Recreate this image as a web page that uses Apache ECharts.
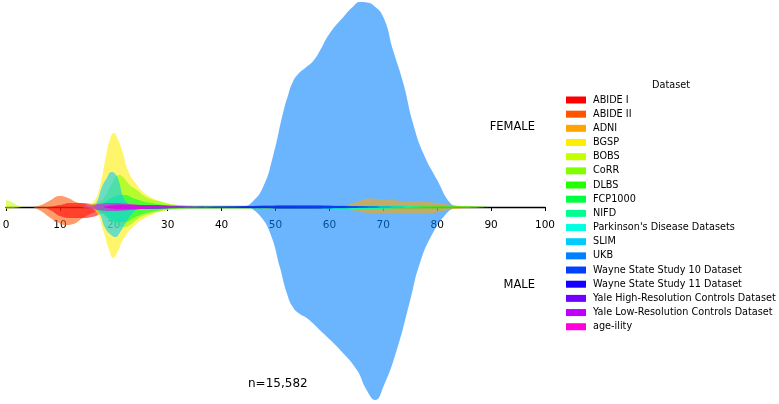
<!DOCTYPE html>
<html lang="en">
<head>
    <meta charset="UTF-8">
    <title>Dataset age distribution</title>
    <script type="text/javascript" src="https://cdn.jsdelivr.net/npm/echarts@6/dist/echarts.min.js"></script>
    <style>
        html, body { margin: 0; padding: 0; background: #fff; }
        #showDiv { width: 779px; height: 404px; }
    </style>
</head>
<body>
<div id="showDiv"></div>
<script type="text/javascript">

	// dataset names and colours (legend order)
	var datasets = ['ABIDE I', 'ABIDE II', 'ADNI', 'BGSP', 'BOBS', 'CoRR', 'DLBS', 'FCP1000', 'NIFD',
		"Parkinson's Disease Datasets", 'SLIM', 'UKB', 'Wayne State Study 10 Dataset',
		'Wayne State Study 11 Dataset', 'Yale High-Resolution Controls Dataset',
		'Yale Low-Resolution Controls Dataset', 'age-ility'];
	var colors = ['#ff0000', '#ff5500', '#ffa500', '#ffee00', '#c6ff00', '#80ff00', '#22ff00', '#00ff40', '#00ff90',
		'#00ffe0', '#00ccff', '#0080ff', '#0040ff', '#1500ff', '#7000ff', '#c000ff', '#ff00dd'];

	var ageTicks = [0, 10, 20, 30, 40, 50, 60, 70, 80, 90, 100];

	// density curves: [age, height], female up, male down
	var abide1F = [[8,0],[10,2],[12,4],[14,4],[16,3],[18,2],[22,1],[28,0]];
	var abide1M = [[7,0],[8.5,-4],[10,-9],[12,-11],[14,-11],[16,-10],[18,-6],[20,-3],[24,-1],[30,0]];
	var abide2F = [[5,0],[6.5,2],[8,6],[10,11],[11.5,9],[13,5],[14.5,3],[16.3,1],[19,0]];
	var abide2M = [[5,0],[6.5,-4],[8,-10],[9.5,-15],[11,-18],[12.5,-17],[14,-12],[16,-6],[18,-2],[21,0]];
	var adniF = [[58,0],[62,1],[65,5],[67.5,8.5],[70,7.5],[72,7],[74,5],[76,5.5],[78,5],[80,4],[82.5,2],[85,1],[89,0]];
	var adniM = [[55,0],[60,-1],[63,-2],[65,-4],[68,-6.3],[70,-6.3],[73,-6.3],[76,-6.3],[79,-6],[81,-4],[83,-2],[86,-1],[89,0]];
	var bgspF = [[15,0],[16.5,7],[17.4,20],[18.4,47],[19.3,68],[20,74],[20.8,67],[21.7,54],[22.6,37],[24.3,22],[26.2,12],[29.1,5],[32,2],[36,0]];
	var bgspM = [[15.5,0],[16.9,-6],[18,-23],[19.2,-44],[19.9,-51],[20.7,-45],[21.7,-33],[23.6,-20],[26.2,-10],[29.9,-3],[34,0]];
	var bobsF = [[0,7],[1,5],[2.5,1],[4,0]];
	var bobsM = [[0,-2],[1.5,-1],[3,0]];
	var corrF = [[14,0],[16,3],[18,8],[19.5,22],[21,32],[21.7,30],[23,22],[24.3,17],[26,10],[29,5],[32,2],[38,0]];
	var corrM = [[14,0],[17,-4],[19,-12],[21,-19],[22,-20],[23,-18],[25,-10],[28,-5],[32,-2],[38,0]];
	var dlbsF = [[18,0],[25,1.5],[35,1.5],[45,1.5],[55,1.5],[65,1.5],[75,1.5],[85,1],[90,0]];
	var dlbsM = [[18,0],[25,-1.5],[35,-1.5],[45,-1.5],[55,-1.5],[65,-1.5],[75,-1.5],[85,-1],[90,0]];
	var fcpF = [[16,0],[18,4],[20,10],[22,12],[24,8],[27,4],[32,1],[40,0]];
	var fcpM = [[16,0],[18,-6],[20,-14],[22,-15],[24,-10],[27,-5],[32,-1],[40,0]];
	var nifdF = [[50,0],[58,1],[63,2],[68,2],[73,1],[80,0]];
	var nifdM = [[50,0],[58,-1],[63,-2],[68,-2],[73,-1],[80,0]];
	var pdF = [[45,0],[55,1],[63,2],[70,1.5],[78,0]];
	var pdM = [[45,0],[55,-1],[63,-2],[70,-1.5],[78,0]];
	var slimF = [[16.5,0],[17.2,10],[17.8,20],[18.6,28],[19.6,35],[20.3,33],[21,25],[21.6,12],[22.5,4],[24,0]];
	var slimM = [[16.5,0],[17.5,-8],[18.3,-20],[19.5,-28],[20.3,-30],[21.2,-25],[22.2,-16],[23.5,-6],[25,0]];
	var ukbF = [[44,0],[45.5,4],[47.7,20],[49.5,50],[51.4,94],[52.4,113],[53.2,125],[54.2,133],[55.5,139],[57,146],[58.3,157],[60.1,174],
		[62.6,190],[64.5,201],[65.7,205],[67,204.5],[68.1,202],[70,190],[71.8,157],[73.7,124],[75.5,84],[77.4,54],[80,27],[82.4,4],[84,0]];
	var ukbM = [[45,0],[47,-8],[49,-26],[50.8,-60],[52.1,-86],[53.2,-100],[54.5,-107],[55.8,-111],[58.8,-126],[62,-143],[65.1,-163],
		[66.9,-183],[68.5,-193],[70,-180],[72.5,-143],[75,-93],[76.8,-56],[79.2,-26],[81.8,-6],[83.5,0]];
	var wayne10F = [[30,0],[45,1],[55,1.5],[65,1],[75,0]];
	var wayne10M = [[30,0],[45,-1],[55,-1.5],[65,-1],[75,0]];
	var wayne11F = [[35,0],[45,1],[55,1.5],[62,1],[70,0]];
	var wayne11M = [[35,0],[45,-1],[55,-1.5],[62,-1],[70,0]];
	var yaleHiF = [[18,0],[22,2],[27,2],[32,1],[40,0]];
	var yaleHiM = [[18,0],[22,-2],[27,-2],[32,-1],[40,0]];
	var yaleLoF = [[18,0],[21,2.5],[25,2],[30,1],[38,0]];
	var yaleLoM = [[18,0],[21,-2.5],[25,-2],[30,-1],[38,0]];
	var agilityF = [[14,0],[17,3],[20,4],[23,3],[27,1],[32,0]];
	var agilityM = [[14,0],[17,-3],[20,-4],[23,-3],[27,-1],[32,0]];

	var curves = [
		[abide1F, abide1M], [abide2F, abide2M], [adniF, adniM], [bgspF, bgspM], [bobsF, bobsM],
		[corrF, corrM], [dlbsF, dlbsM], [fcpF, fcpM], [nifdF, nifdM], [pdF, pdM], [slimF, slimM],
		[ukbF, ukbM], [wayne10F, wayne10M], [wayne11F, wayne11M], [yaleHiF, yaleHiM],
		[yaleLoF, yaleLoM], [agilityF, agilityM]
	];

	var yMax = 205, yMin = -193;
	var font = 'DejaVu Sans';

	// stacking: UKB at the bottom, ABIDE II under ABIDE I, the rest in legend order
	var drawOrder = [11, 1, 0];
	for (var i = 0; i < datasets.length; i++) {
		if (drawOrder.indexOf(i) < 0) drawOrder.push(i);
	}

	var series = [];
	drawOrder.forEach(function(idx, k) {
		for (var s = 0; s < 2; s++) {
			series.push({
				name: datasets[idx],
				type: 'line',
				data: curves[idx][s],
				smooth: 0.5,
				showSymbol: false,
				silent: true,
				z: 2 + k * 0.01,
				itemStyle: { color: colors[idx] },
				lineStyle: { width: 0, opacity: 0 },
				areaStyle: { color: colors[idx], opacity: 0.58 }
			});
		}
	});

	var myChart = echarts.init(document.getElementById('showDiv'), null, { renderer: 'canvas' });

	var option = {
		animation: false,
		grid: { left: 6, right: 234, top: 2, bottom: 4, outerBoundsMode: 'none', containLabel: false },
		xAxis: {
			type: 'value',
			min: ageTicks[0],
			max: ageTicks[ageTicks.length - 1],
			interval: ageTicks[1] - ageTicks[0],
			position: 'bottom',
			// put the axis on the zero line: grid bottom sits |yMin| px below zero
			offset: yMin,
			axisLine: { onZero: false, lineStyle: { color: '#000', width: 1.3 } },
			axisTick: { length: 4, lineStyle: { color: '#000', width: 1 } },
			axisLabel: { fontFamily: font, fontSize: 10.5, color: '#000', margin: 13 },
			splitLine: { show: false }
		},
		yAxis: {
			type: 'value',
			min: yMin,
			max: yMax,
			show: false
		},
		legend: {
			data: datasets,
			orient: 'vertical',
			left: 566,
			top: 94,
			padding: 0,
			itemWidth: 20,
			itemHeight: 7,
			itemGap: 2.17,
			icon: 'rect',
			selectedMode: false,
			textStyle: { fontFamily: font, fontSize: 9.7, color: '#000', lineHeight: 12, padding: [0, 0, 0, 2] }
		},
		graphic: [
			{ type: 'text', left: 652, top: 80, style: { text: 'Dataset', font: '9.7px "DejaVu Sans"', fill: '#000' } },
			{ type: 'text', right: 244, top: 121, style: { text: 'FEMALE', font: '11.5px "DejaVu Sans"', fill: '#000' } },
			{ type: 'text', right: 244, top: 279, style: { text: 'MALE', font: '11.5px "DejaVu Sans"', fill: '#000' } },
			{ type: 'text', left: 248, top: 378, style: { text: 'n=15,582', font: '12px "DejaVu Sans"', fill: '#000' } }
		],
		series: series
	};

	if (option && typeof option === "object") {
		myChart.setOption(option, true);
	}
</script>
</body>
</html>
